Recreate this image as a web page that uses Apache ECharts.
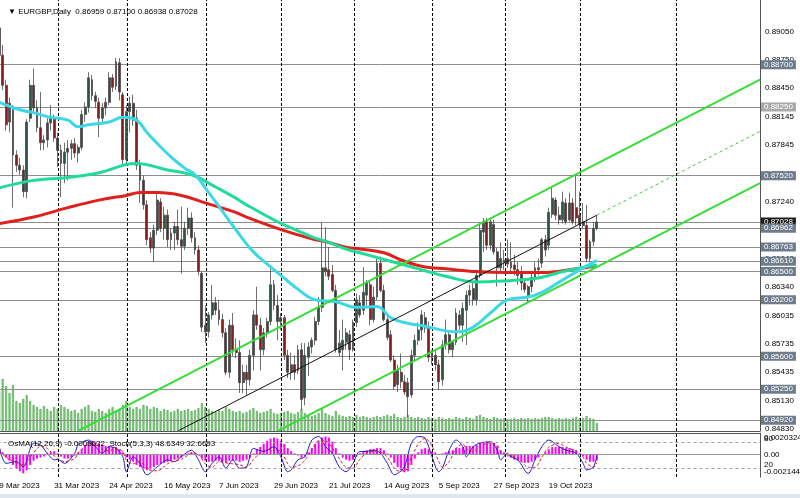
<!DOCTYPE html>
<html>
<head>
<meta charset="utf-8">
<script src="https://cdn.jsdelivr.net/npm/echarts@6/dist/echarts.min.js"></script>
<style>
  html, body { margin: 0; padding: 0; background: #fff; }
  #chart { width: 800px; height: 498px; }
</style>
</head>
<body>
<div id="chart"></div>
<script>
// EURGBP daily, 9 Mar 2023 .. 8 Nov 2023 (175 bars), 222 slots incl. empty future area
const dateLabels = ['9 Mar 2023', '31 Mar 2023', '24 Apr 2023', '16 May 2023', '7 Jun 2023', '29 Jun 2023',
  '21 Jul 2023', '14 Aug 2023', '5 Sep 2023', '27 Sep 2023', '19 Oct 2023'];
const labelStep = 16;
const slotCount = 222;

const opens = [
  .8909,.8880,.8848,.8809,.8822,.8774,.8763,.8758,.8735,.8813,
  .8848,.8824,.8803,.8787,.8790,.8808,.8813,.8792,.8779,.8765,
  .8777,.8781,.8786,.8776,.8782,.8817,.8825,.8854,.8837,.8830,
  .8813,.8824,.8830,.8856,.8847,.8872,.8838,.8769,.8820,.8829,
  .8813,.8763,.8747,.8721,.8686,.8675,.8694,.8724,.8696,.8710,
  .8684,.8691,.8698,.8684,.8677,.8696,.8707,.8686,.8673,.8648,
  .8593,.8586,.8604,.8617,.8609,.8599,.8585,.8543,.8593,.8567,
  .8564,.8532,.8543,.8535,.8561,.8604,.8593,.8567,.8585,.8597,
  .8636,.8614,.8597,.8601,.8561,.8543,.8551,.8545,.8567,.8516,
  .8559,.8570,.8577,.8597,.8612,.8654,.8652,.8647,.8630,.8564,
  .8567,.8575,.8583,.8567,.8596,.8617,.8609,.8625,.8636,.8599,
  .8623,.8659,.8630,.8599,.8583,.8556,.8530,.8543,.8533,.8532,
  .8519,.8561,.8577,.8588,.8601,.8590,.8559,.8561,.8551,.8535,
  .8572,.8583,.8567,.8575,.8604,.8593,.8609,.8625,.8632,.8620,
  .8646,.8692,.8703,.8678,.8700,.8671,.8654,.8660,.8664,.8660,
  .8657,.8652,.8650,.8638,.8625,.8634,.8644,.8654,.8659,.8684,
  .8678,.8711,.8726,.8710,.8705,.8723,.8705,.8723,.8718,.8710,
  .8703,.8699,.8664,.8682,.86959
];
const highs = [
  .8917,.8891,.8854,.8835,.8827,.8779,.8771,.8763,.8812,.8854,
  .8866,.8832,.8841,.8795,.8813,.8827,.8817,.8798,.8785,.8787,
  .8790,.8790,.8792,.8785,.8822,.8830,.8862,.8859,.8841,.8835,
  .8829,.8835,.8862,.8860,.8877,.8877,.8841,.8827,.8836,.8838,
  .8822,.8769,.8752,.8726,.8692,.8700,.8734,.8728,.8719,.8716,
  .8696,.8703,.8716,.8719,.8703,.8718,.8713,.8692,.8678,.8650,
  .8614,.8607,.8636,.8623,.8620,.8605,.8590,.8599,.8606,.8579,
  .8577,.8551,.8551,.8567,.8609,.8634,.8601,.8590,.8601,.8657,
  .8641,.8625,.8606,.8604,.8567,.8564,.8561,.8572,.8574,.8574,
  .8575,.8580,.8602,.8623,.8702,.8697,.8676,.8657,.8636,.8588,
  .8599,.8590,.8588,.8599,.8627,.8625,.8655,.8641,.8641,.8634,
  .8666,.8666,.8636,.8604,.8588,.8561,.8551,.8563,.8540,.8537,
  .8567,.8583,.8596,.8609,.8607,.8597,.8567,.8567,.8556,.8577,
  .8599,.8588,.8577,.8611,.8609,.8617,.8630,.8636,.8639,.8652,
  .8700,.8707,.8707,.8707,.8705,.8675,.8681,.8673,.8684,.8681,
  .8668,.8660,.8656,.8643,.8636,.8650,.8660,.8664,.8686,.8689,
  .8718,.8739,.8729,.8719,.8735,.8728,.8734,.8728,.8753,.8735,
  .8723,.8721,.8684,.8703,.87100
];
const lows = [
  .8875,.8843,.8800,.8798,.8718,.8756,.8753,.8729,.8728,.8809,
  .8820,.8798,.8779,.8779,.8782,.8800,.8788,.8761,.8729,.8744,
  .8747,.8769,.8771,.8766,.8779,.8809,.8819,.8832,.8824,.8793,
  .8809,.8816,.8827,.8841,.8843,.8832,.8763,.8765,.8798,.8805,
  .8758,.8723,.8716,.8678,.8670,.8660,.8689,.8692,.8684,.8676,
  .8673,.8673,.8678,.8648,.8673,.8689,.8681,.8668,.8646,.8586,
  .8574,.8580,.8599,.8604,.8593,.8580,.8540,.8537,.8560,.8558,
  .8521,.8521,.8519,.8529,.8545,.8588,.8545,.8561,.8580,.8593,
  .8609,.8577,.8588,.8556,.8537,.8535,.8535,.8541,.8503,.8508,
  .8539,.8563,.8572,.8593,.8607,.8645,.8641,.8628,.8564,.8560,
  .8545,.8567,.8556,.8565,.8591,.8601,.8604,.8614,.8593,.8596,
  .8620,.8628,.8597,.8577,.8554,.8524,.8522,.8526,.8519,.8495,
  .8516,.8556,.8572,.8577,.8585,.8554,.8551,.8545,.8524,.8529,
  .8567,.8563,.8559,.8572,.8588,.8575,.8572,.8614,.8614,.8614,
  .8643,.8671,.8673,.8673,.8668,.8634,.8650,.8652,.8654,.8650,
  .8646,.8636,.8630,.8628,.8617,.8628,.8639,.8646,.8654,.8666,
  .8673,.8707,.8705,.8700,.8701,.8700,.8703,.8700,.8699,.8696,
  .8696,.8660,.8660,.8677,.86938
];
const closes = [
  .8880,.8848,.8806,.8829,.8774,.8763,.8758,.8735,.8809,.8848,
  .8824,.8803,.8787,.8790,.8808,.8813,.8792,.8779,.8765,.8777,
  .8781,.8786,.8776,.8782,.8817,.8825,.8856,.8837,.8831,.8813,
  .8824,.8830,.8856,.8846,.8873,.8841,.8769,.8820,.8829,.8811,
  .8763,.8747,.8721,.8684,.8675,.8694,.8726,.8696,.8710,.8684,
  .8691,.8698,.8684,.8677,.8696,.8707,.8686,.8673,.8650,.8591,
  .8586,.8604,.8617,.8609,.8599,.8585,.8543,.8593,.8567,.8564,
  .8532,.8543,.8535,.8561,.8604,.8593,.8567,.8585,.8597,.8636,
  .8614,.8597,.8601,.8561,.8543,.8551,.8543,.8567,.8514,.8561,
  .8570,.8577,.8597,.8612,.8654,.8650,.8645,.8630,.8567,.8574,
  .8577,.8585,.8567,.8596,.8620,.8604,.8628,.8638,.8599,.8623,
  .8659,.8630,.8599,.8580,.8556,.8528,.8545,.8533,.8522,.8517,
  .8561,.8577,.8588,.8604,.8590,.8559,.8564,.8551,.8533,.8572,
  .8583,.8567,.8575,.8606,.8593,.8611,.8625,.8630,.8620,.8646,
  .8694,.8703,.8678,.8703,.8671,.8654,.8664,.8662,.8658,.8654,
  .8652,.8646,.8638,.8631,.8634,.8644,.8654,.8652,.8684,.8673,
  .8713,.8728,.8710,.8705,.8724,.8703,.8723,.8703,.8707,.8700,
  .8699,.8664,.8682,.8696,.87028
];
const volumes = [
  23200,30200,26100,22000,26700,17400,16200,18600,20900,17400,
  15100,13900,12800,14500,12800,11600,13900,12800,15100,13900,
  12800,11600,12200,10400,12800,13900,15100,11600,11000,12800,
  11600,10400,12800,13900,11600,12800,15100,17400,13900,12800,
  13900,12800,15100,14500,12800,13900,13300,11600,12800,12200,
  11000,11600,12800,11600,12200,12800,11600,12200,13300,16200,
  13900,12800,11600,11000,12200,11600,13900,12800,11600,11000,
  11600,10400,11000,12200,13300,11600,10400,11000,11600,12800,
  10400,9900,10400,11000,11600,10400,9900,11000,12800,10400,
  9300,8700,9300,10400,12800,10400,9300,8700,11600,9300,
  8700,8100,8700,8100,9300,8100,8700,8100,7500,8100,
  8700,8100,8700,9300,8700,9900,8100,7500,8100,9300,
  8100,7500,8100,7500,7000,8100,7500,7000,8100,7500,
  7000,7500,7000,8100,7500,7000,8100,7500,7000,8700,
  9300,8100,7500,7000,8100,7500,7000,7500,7000,7000,
  7500,7000,7500,7000,7500,7000,7500,7000,7500,8100,
  8100,7500,7000,7500,7000,7500,7000,7500,8100,7500,
  7500,8700,7500,7000,4600
];

// moving averages: [bar, price]
const maFast = [[0,.8830],[6,.8822],[10,.8819],[15,.8814],[20,.8811],[23,.8804],[26,.8806],[32,.8809],
  [36,.8814],[40,.8811],[43,.8798],[45,.8790],[50,.8772],[54,.8760],[57,.8753],[60,.8739],[65,.8714],
  [69,.8694],[74,.8671],[79,.8655],[83,.8643],[86,.8634],[92,.8620],[98,.8618],[104,.8612],[110,.8613],
  [114,.8601],[119,.8595],[124,.8592],[130,.8587],[134,.8586],[138,.8591],[143,.8606],[148,.8620],
  [154,.8623],[158,.8628],[164,.8641],[170,.8654],[174,.8662]];
const maMid = [[0,.8739],[10,.8747],[20,.8750],[29,.8755],[37,.8764],[40,.8765],[49,.8758],[56,.8753],
  [62,.8742],[68,.8730],[72,.8721],[81,.8703],[86,.8695],[91,.8687],[96,.8681],[101,.8674],[105,.8670],
  [111,.8664],[118,.8657],[124,.8651],[130,.8645],[139,.8639],[147,.8640],[154,.8642],[158,.8644],
  [163,.8649],[168,.8653],[174,.8657]];
const maSlow = [[0,.8701],[10,.8708],[20,.8718],[29,.8726],[37,.8731],[41,.8734],[46,.8734],[53,.8731],
  [60,.8723],[68,.8714],[72,.8708],[81,.8696],[87,.8689],[91,.8685],[96,.8681],[101,.8676],[105,.8674],
  [112,.8670],[118,.8661],[124,.8655],[130,.8653],[139,.8650],[148,.8649],[158,.8649],[168,.8653],[174,.8656]];

// channel lines: [bar, price] end points
const chanUpper = [[23.1, .8481], [221.5, .8854]];
const chanLower = [[81.3, .8481], [221.5, .8744]];
const chanMid = [[52.2, .8481], [174, .8710]];
const chanMidRay = [[174, .8710], [221.5, .8799]];

const priceTicks = [0.89050, 0.88750, 0.88450, 0.88145, 0.87845, 0.87545, 0.87240, 0.86940,
  0.86640, 0.86340, 0.86035, 0.85735, 0.85435, 0.85130, 0.84830];
const levels = [0.88700, 0.88250, 0.87520, 0.86763, 0.86610, 0.86500, 0.86200, 0.85600, 0.85250, 0.84920];
const bidPrice = 0.87028;
const askLevel = 0.86962;
const monthStarts = [17.3, 37.3, 60.3, 82.2, 103.4, 126, 147.3, 169.3, 197.2];

const osma = [
  .0006,.0002,-.0003,-.0006,-.0010,-.0013,-.0016,-.0018,-.0015,-.0010,
  -.0006,-.0004,-.0003,-.0002,.0001,.0002,.0003,.0001,-.0002,-.0004,
  -.0004,-.0003,-.0001,.0002,.0005,.0009,.0012,.0013,.0012,.0010,
  .0009,.0008,.0008,.0007,.0007,.0005,.0002,-.0003,-.0005,-.0007,
  -.0010,-.0012,-.0014,-.0015,-.0014,-.0012,-.0010,-.0009,-.0008,-.0007,
  -.0006,-.0005,-.0004,-.0003,-.0001,.0001,.0002,.0001,-.0001,-.0004,
  -.0006,-.0007,-.0007,-.0006,-.0006,-.0007,-.0008,-.0006,-.0006,-.0006,
  -.0007,-.0006,-.0005,-.0003,.0001,.0005,.0007,.0010,.0013,.0015,
  .0016,.0015,.0013,.0010,.0006,.0003,.0001,-.0001,-.0003,-.0002,
  .0002,.0006,.0010,.0013,.0016,.0017,.0016,.0012,.0006,.0001,
  -.0003,-.0005,-.0006,-.0005,-.0002,.0001,.0003,.0004,.0005,.0005,
  .0006,.0006,.0004,.0001,-.0003,-.0008,-.0012,-.0015,-.0017,-.0016,
  -.0010,-.0004,.0002,.0005,.0006,.0005,.0003,.0001,.0000,.0001,
  .0002,.0003,.0004,.0006,.0006,.0007,.0008,.0008,.0008,.0009,
  .0011,.0012,.0012,.0012,.0011,.0008,.0004,.0002,-.0001,-.0003,
  -.0005,-.0006,-.0007,-.0008,-.0008,-.0007,-.0005,-.0003,.0000,.0002,
  .0005,.0007,.0007,.0007,.0007,.0006,.0006,.0005,.0004,.0001,
  -.0002,-.0005,-.0007,-.0007,-.0005632
];
const stochMain = [[0,69],[2,31],[5,35],[7,23],[10,77],[12,73],[14,54],[16,39],[17,40],[19,31],[22,54],[23,73],
  [26,84],[28,69],[30,54],[32,69],[34,65],[36,46],[37,12],[39,46],[41,31],[43,5],[46,23],[49,39],[51,35],
  [53,46],[55,58],[56,61],[58,39],[60,12],[62,31],[64,46],[66,20],[68,39],[70,20],[72,23],[74,65],[77,58],
  [80,69],[82,46],[84,12],[85,16],[87,39],[89,46],[91,84],[93,92],[95,69],[97,54],[99,23],[101,12],[103,31],
  [105,58],[107,58],[109,61],[111,54],[113,31],[115,5],[116,8],[118,23],[120,77],[122,92],[124,88],[126,46],
  [128,12],[129,20],[131,61],[133,84],[135,69],[136,46],[138,69],[140,77],[143,80],[145,61],[146,39],[148,54],
  [149,46],[151,39],[154,8],[156,39],[158,69],[160,84],[163,69],[165,61],[168,54],[170,31],[171,16],[173,23],
  [174,48.63]];
const stochSignal = [[0,60],[2,45],[5,32],[7,28],[10,55],[12,70],[14,65],[16,48],[17,42],[19,35],[22,42],[23,55],
  [26,75],[28,78],[30,62],[32,60],[34,64],[36,58],[37,38],[39,30],[41,35],[43,18],[46,14],[49,30],[51,36],
  [53,40],[55,50],[56,55],[58,52],[60,30],[62,22],[64,35],[66,32],[68,30],[70,28],[72,22],[74,40],[77,60],
  [80,62],[82,58],[84,30],[85,22],[87,25],[89,38],[91,62],[93,82],[95,82],[97,66],[99,42],[101,22],[103,20],
  [105,40],[107,55],[109,58],[111,57],[113,45],[115,20],[116,14],[118,14],[120,45],[122,75],[124,88],[126,70],
  [128,35],[129,22],[131,35],[133,65],[135,75],[136,64],[138,58],[140,70],[143,78],[145,72],[146,58],[148,48],
  [149,48],[151,44],[154,22],[156,22],[158,45],[160,68],[163,76],[165,68],[168,58],[170,45],[171,32],[173,22],
  [174,32.67]];

const FONT = "'Liberation Sans', Arial, sans-serif";
const NOLINE = 'rgba(0,0,0,0)';
const slots = Array.from({ length: slotCount }, (_, i) => String(i));
const candles = opens.map((o, i) => [o, closes[i], lows[i], highs[i]]);

const chart = echarts.init(document.getElementById('chart'));

const hiddenValueX = (grid) => ({
  type: 'value', gridIndex: grid, min: -0.5, max: slotCount - 0.5, show: false
});

chart.setOption({
  animation: false,
  backgroundColor: '#ffffff',
  textStyle: { fontFamily: FONT },
  title: [
    { text: '\u25BC EURGBP,Daily  0.86959 0.87100 0.86938 0.87028', left: 3, top: 3,
      textStyle: { fontSize: 8, fontWeight: 'normal', color: '#000', fontFamily: FONT } },
    { text: 'OsMA(12,26,9) -0.0005632  Stoch(5,3,3) 48.6349 32.6693', left: 3, top: 435,
      textStyle: { fontSize: 8, fontWeight: 'normal', color: '#000', fontFamily: FONT } }
  ],
  grid: [
    { left: -2.5, right: 40, top: 0, height: 431, containLabel: false, outerBoundsMode: 'none' },
    { left: -2.5, right: 40, top: 433, height: 44, containLabel: false, outerBoundsMode: 'none' }
  ],
  xAxis: [
    { type: 'category', gridIndex: 0, data: slots, boundaryGap: true,
      axisLine: { show: true, lineStyle: { color: '#555', width: 1 } },
      axisTick: { show: false }, axisLabel: { show: false }, splitLine: { show: false } },
    hiddenValueX(0),
    { type: 'category', gridIndex: 1, data: slots, boundaryGap: true, position: 'bottom',
      axisLine: { show: true, lineStyle: { color: '#555', width: 1 } },
      axisTick: { show: false },
      axisLabel: { show: true, interval: (i) => i % labelStep === 0 && i / labelStep < dateLabels.length,
        formatter: (v) => dateLabels[Number(v) / labelStep] || '', align: 'left', margin: 5,
        fontSize: 8, color: '#000', fontFamily: FONT },
      splitLine: { show: false } },
    { type: 'value', gridIndex: 1, min: -0.5, max: slotCount - 0.5, position: 'top',
      axisLine: { show: true, onZero: false, lineStyle: { color: '#555', width: 1 } },
      axisTick: { show: false }, axisLabel: { show: false }, splitLine: { show: false } }
  ],
  yAxis: [
    { type: 'value', gridIndex: 0, min: 0.84806, max: 0.89387, position: 'right', scale: true,
      axisLine: { show: true, onZero: false, lineStyle: { color: '#555', width: 1 } },
      axisTick: { show: false }, axisLabel: { show: false }, splitLine: { show: false } },
    { type: 'value', gridIndex: 0, min: 0, max: 250000, show: false },
    { type: 'value', gridIndex: 1, min: -0.002144, max: 0.0020324, position: 'right',
      axisLine: { show: true, onZero: false, lineStyle: { color: '#555', width: 1 } },
      axisTick: { show: false }, axisLabel: { show: false }, splitLine: { show: false } },
    { type: 'value', gridIndex: 1, min: 0, max: 100, show: false }
  ],
  series: [
    { // right-axis price ticks
      name: 'ticks', type: 'line', xAxisIndex: 1, yAxisIndex: 0, data: [], z: 1,
      markLine: { symbol: 'none', silent: true, animation: false, precision: 5,
        lineStyle: { color: NOLINE, width: 0 },
        label: { position: 'end', distance: 5, fontSize: 8, color: '#000', fontFamily: FONT,
          formatter: (p) => p.value.toFixed(5) },
        data: priceTicks.map((v) => ({ yAxis: v })) }
    },
    { // horizontal levels + boxed labels
      name: 'levels', type: 'line', xAxisIndex: 1, yAxisIndex: 0, data: [], z: 2,
      markLine: { symbol: 'none', silent: true, animation: false, precision: 5,
        lineStyle: { color: '#8f8f8f', width: 1, type: 'solid' },
        label: { position: 'end', distance: 1, fontSize: 8, color: '#fff', fontFamily: FONT,
          backgroundColor: '#6e7c8c', padding: [1, 3, 0, 3],
          formatter: (p) => p.value.toFixed(5) },
        data: [{ yAxis: bidPrice, label: { backgroundColor: '#1e1e1e' } }]
          .concat(levels.map((v) => v === 0.88250
            ? { yAxis: v, label: { backgroundColor: '#a9a9a9' } } : { yAxis: v }))
          .concat([{ yAxis: askLevel }]) }
    },
    { // month separators, main panel
      name: 'sep', type: 'line', xAxisIndex: 1, yAxisIndex: 0, data: [], z: 3,
      markLine: { symbol: 'none', silent: true, animation: false, precision: 2, label: { show: false },
        lineStyle: { color: '#000', width: 1, type: [3, 2] },
        data: monthStarts.map((v) => ({ xAxis: v })) }
    },
    { name: 'Volumes', type: 'bar', xAxisIndex: 0, yAxisIndex: 1, data: volumes, barWidth: 2, z: 2,
      itemStyle: { color: '#8fcf8f', borderColor: '#3f9f3f', borderWidth: 0.6 } },
    { name: 'EURGBP', type: 'candlestick', xAxisIndex: 0, yAxisIndex: 0, data: candles, barWidth: 2.4, z: 5,
      itemStyle: { color: '#2f5544', color0: '#851c1c', borderColor: '#4a4a4a', borderColor0: '#4a4a4a',
        borderWidth: 0.8 } },
    { name: 'MA slow', type: 'line', xAxisIndex: 1, yAxisIndex: 0, data: maSlow, smooth: 0.4,
      showSymbol: false, z: 6, lineStyle: { color: '#e0201c', width: 3 } },
    { name: 'MA mid', type: 'line', xAxisIndex: 1, yAxisIndex: 0, data: maMid, smooth: 0.4,
      showSymbol: false, z: 6, lineStyle: { color: '#20dc98', width: 3 } },
    { name: 'MA fast', type: 'line', xAxisIndex: 1, yAxisIndex: 0, data: maFast, smooth: 0.4,
      showSymbol: false, z: 6, lineStyle: { color: '#3cd8e6', width: 3 } },
    { name: 'chan up', type: 'line', xAxisIndex: 1, yAxisIndex: 0, data: chanUpper, showSymbol: false,
      z: 7, lineStyle: { color: '#38dc38', width: 2 } },
    { name: 'chan low', type: 'line', xAxisIndex: 1, yAxisIndex: 0, data: chanLower, showSymbol: false,
      z: 7, lineStyle: { color: '#38dc38', width: 2 } },
    { name: 'chan mid', type: 'line', xAxisIndex: 1, yAxisIndex: 0, data: chanMid, showSymbol: false,
      z: 7, lineStyle: { color: '#111', width: 1 } },
    { name: 'chan ray', type: 'line', xAxisIndex: 1, yAxisIndex: 0, data: chanMidRay, showSymbol: false,
      z: 7, lineStyle: { color: '#3ec83e', width: 1, type: [3, 3] } },
    { name: 'OsMA', type: 'bar', xAxisIndex: 2, yAxisIndex: 2, data: osma, barWidth: 2, z: 3,
      itemStyle: { color: '#ff00ff' },
      markLine: { symbol: 'none', silent: true, animation: false, precision: 7,
        label: { position: 'end', distance: 4, fontSize: 8, color: '#000', fontFamily: FONT },
        data: [
          { yAxis: 0, lineStyle: { color: '#9a9a9a', width: 1, type: 'solid' }, label: { formatter: '0.00' } },
          { yAxis: 0.0020324, lineStyle: { color: NOLINE, width: 0 },
            label: { formatter: '0.0020324', offset: [0, 5] } },
          { yAxis: -0.002144, lineStyle: { color: NOLINE, width: 0 },
            label: { formatter: '-0.002144', offset: [0, -5] } }
        ] } },
    { name: 'Stoch', type: 'line', xAxisIndex: 3, yAxisIndex: 3, data: stochMain, smooth: 0.3,
      showSymbol: false, z: 4, lineStyle: { color: '#1c1cc8', width: 1 },
      markLine: { symbol: 'none', silent: true, animation: false,
        lineStyle: { color: '#a0a0a0', width: 1, type: [3, 3] },
        label: { position: 'end', distance: 4, fontSize: 8, color: '#000', fontFamily: FONT,
          formatter: (p) => String(p.value) },
        data: [{ yAxis: 80, label: { offset: [0, -3] } }, { yAxis: 20, label: { offset: [0, -3] } }] } },
    { name: 'Signal', type: 'line', xAxisIndex: 3, yAxisIndex: 3, data: stochSignal, smooth: 0.3,
      showSymbol: false, z: 4, lineStyle: { color: '#e02020', width: 1, type: [3, 2] } },
    { // month separators, indicator panel
      name: 'sep2', type: 'line', xAxisIndex: 3, yAxisIndex: 3, data: [], z: 3,
      markLine: { symbol: 'none', silent: true, animation: false, precision: 2, label: { show: false },
        lineStyle: { color: '#000', width: 1, type: [3, 2] },
        data: monthStarts.map((v) => ({ xAxis: v })) }
    }
  ],
  graphic: [
    { type: 'rect', shape: { x: 0, y: 494, width: 800, height: 4 }, style: { fill: '#dfe6ee' }, silent: true }
  ]
});
</script>
</body>
</html>
